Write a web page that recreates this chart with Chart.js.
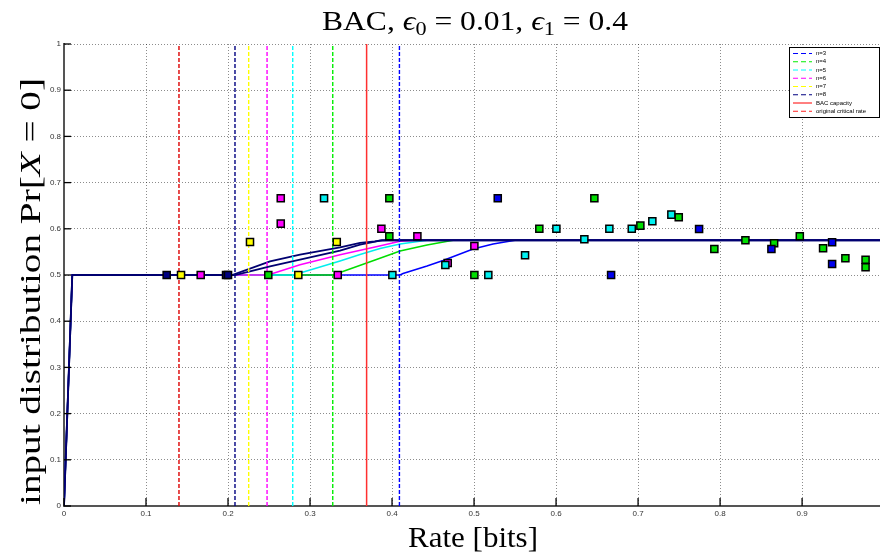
<!DOCTYPE html>
<html><head><meta charset="utf-8">
<script src="https://cdn.jsdelivr.net/npm/chart.js@4.4.0/dist/chart.umd.min.js"></script>
<style>html,body{margin:0;padding:0;background:#fff}canvas{display:block}</style>
</head><body>
<canvas id="c" width="880" height="555"></canvas>
<script>
// ---- tick values ----
const xTicks = [0, 0.1, 0.2, 0.3, 0.4, 0.5, 0.6, 0.7, 0.8, 0.9];
const yTicks = [0, 0.1, 0.2, 0.3, 0.4, 0.5, 0.6, 0.7, 0.8, 0.9, 1];

// ---- curves (rate vs. input distribution) ----
const curveN3X = [0, 0.0101, 0.4098, 0.4134, 0.4427, 0.4622, 0.4988, 0.5232, 0.55, 0.995];
const curveN3Y = [0, 0.5, 0.5, 0.5033, 0.5195, 0.5314, 0.5563, 0.5672, 0.5752, 0.5752];
const curveN4X = [0, 0.0101, 0.3277, 0.3366, 0.3793, 0.4098, 0.4427, 0.4744, 0.995];
const curveN4Y = [0, 0.5, 0.5, 0.5054, 0.5325, 0.5520, 0.5650, 0.5752, 0.5752];
const curveN5X = [0, 0.0101, 0.2793, 0.2878, 0.3366, 0.361, 0.3854, 0.4098, 0.4427, 0.995];
const curveN5Y = [0, 0.5, 0.5, 0.5043, 0.5304, 0.5445, 0.5575, 0.5672, 0.5752, 0.5752];
const curveN6X = [0, 0.0101, 0.2488, 0.2878, 0.3366, 0.3793, 0.4098, 0.4305, 0.995];
const curveN6Y = [0, 0.5, 0.5, 0.5223, 0.5440, 0.5607, 0.5730, 0.5752, 0.5752];
const curveN7X = [0, 0.0101, 0.2085, 0.2512, 0.2878, 0.3366, 0.361, 0.3854, 0.3951, 0.995];
const curveN7Y = [0, 0.5, 0.5, 0.5189, 0.5332, 0.5527, 0.5657, 0.5743, 0.5752, 0.5752];
const curveN8X = [0, 0.0101, 0.2049, 0.2512, 0.2878, 0.3366, 0.361, 0.3793, 0.3878, 0.995];
const curveN8Y = [0, 0.5, 0.5, 0.5297, 0.5440, 0.5600, 0.5694, 0.5726, 0.5752, 0.5752];

// ---- vertical reference rates ----
const vLabels = ['n=3', 'n=4', 'n=5', 'n=6', 'n=7', 'n=8'];
const vRates  = [0.409, 0.3277, 0.2789, 0.2476, 0.2252, 0.2085];
const capacityRate = 0.369;
const criticalRate = 0.1402;

// ---- scatter points ----
const blueX = [0.5289, 0.6671, 0.7744, 0.8626, 0.9366, 0.9366];
const blueY = [0.6662, 0.5, 0.5997, 0.5562, 0.5709, 0.5239];
const navyX = [0.1252, 0.1976, 0.2];
const navyY = [0.5, 0.5, 0.5];
const greenX = [0.2491, 0.3967, 0.3967, 0.5004, 0.5796, 0.6467, 0.7028, 0.7496, 0.7930, 0.8309, 0.8659, 0.8972, 0.9256, 0.9528, 0.9774, 0.9774];
const greenY = [0.5, 0.6662, 0.5839, 0.5, 0.6003, 0.6662, 0.6069, 0.6251, 0.5562, 0.5752, 0.5687, 0.5839, 0.5579, 0.5362, 0.5332, 0.5167];
const cyanX = [0.3171, 0.4004, 0.4650, 0.5174, 0.5622, 0.6004, 0.6345, 0.6650, 0.6923, 0.7174, 0.7406];
const cyanY = [0.6662, 0.5, 0.5217, 0.5, 0.5426, 0.6003, 0.5774, 0.6003, 0.6003, 0.6164, 0.6307];
const magentaX = [0.1667, 0.2643, 0.2643, 0.3338, 0.3870, 0.4309, 0.4679, 0.5004];
const magentaY = [0.5, 0.6662, 0.6112, 0.5, 0.6003, 0.5839, 0.5260, 0.5629];
const yellowX = [0.1427, 0.2268, 0.2857, 0.3326];
const yellowY = [0.5, 0.5715, 0.5, 0.5715];

const zip = (xs, ys) => xs.map((v, i) => ({x: v, y: ys[i]}));
const vline = v => [{x: v, y: 0}, {x: v, y: 1}];

const vColors = ['#0000ff', '#00ee00', '#00ffff', '#ff00ff', '#ffff00', '#000080'];
const DASH = [4, 2];

const datasets = [];
function pts(xs, ys, color, order) {
  datasets.push({type: 'scatter', data: zip(xs, ys), pointStyle: 'rect', pointRadius: 5, pointHoverRadius: 5,
    backgroundColor: color, borderColor: '#000', borderWidth: 1.5, showLine: false, order: order});
}
pts(blueX, blueY, '#0000ee', 1);
pts(navyX, navyY, '#000080', 1);
pts(greenX, greenY, '#00dd00', 1);
pts(cyanX, cyanY, '#00f0f0', 1);
pts(magentaX, magentaY, '#ff00ff', 1);
pts(yellowX, yellowY, '#ffff00', 1);

function vl(v, color, dash, order, width) {
  datasets.push({type: 'scatter', data: vline(v), showLine: true, pointRadius: 0, borderColor: color,
    borderWidth: width || 1.4, borderDash: dash, order: order});
}
vRates.forEach((v, i) => vl(v, vColors[i], DASH, 3));
vl(capacityRate, '#ff3030', [], 2, 1.5);
vl(criticalRate, '#dd0000', DASH, 3);

function curve(xs, ys, color, order, w) {
  datasets.push({type: 'scatter', data: zip(xs, ys), showLine: true, pointRadius: 0, borderColor: color,
    borderWidth: w || 1.5, order: order, tension: 0});
}
curve(curveN8X, curveN8Y, '#000070', 10, 1.8);
curve(curveN7X, curveN7Y, '#000070', 11, 1.8);
curve(curveN6X, curveN6Y, '#ff00ff', 12);
curve(curveN5X, curveN5Y, '#00eeee', 13);
curve(curveN4X, curveN4Y, '#00dd00', 14);
curve(curveN3X, curveN3Y, '#0000ff', 15);

const SERIF = '"Liberation Serif", "DejaVu Serif", serif';
// draw text runs centred on (cx, cy); optionally stretched horizontally to a target width
function drawRuns(ctx, runs, cx, cy, target) {
  let w = 0;
  runs.forEach(r => { ctx.font = r.f; r.w = ctx.measureText(r.t).width; w += r.w; });
  const k = target ? target / w : 1;
  ctx.save();
  ctx.translate(cx, cy);
  ctx.scale(k, 1);
  let x = -w / 2;
  runs.forEach(r => { ctx.font = r.f; ctx.fillText(r.t, x, (r.dy || 0)); x += r.w; });
  ctx.restore();
}

const legendItems = [
  {label: 'n=3', color: vColors[0], dash: [5, 3]},
  {label: 'n=4', color: vColors[1], dash: [5, 3]},
  {label: 'n=5', color: vColors[2], dash: [5, 3]},
  {label: 'n=6', color: vColors[3], dash: [5, 3]},
  {label: 'n=7', color: vColors[4], dash: [5, 3]},
  {label: 'n=8', color: vColors[5], dash: [5, 3]},
  {label: 'BAC capacity', color: '#ff0000', dash: []},
  {label: 'original critical rate', color: '#ff2020', dash: [5, 3]}
];

const decor = {
  id: 'decor',
  afterDraw(chart) {
    const {ctx, chartArea: a, scales: {x, y}} = chart;
    ctx.save();
    // inward ticks
    ctx.strokeStyle = '#000'; ctx.lineWidth = 1.3; ctx.setLineDash([]);
    xTicks.forEach(v => { const px = x.getPixelForValue(v); ctx.beginPath(); ctx.moveTo(px, a.bottom); ctx.lineTo(px, a.bottom - 8); ctx.stroke(); });
    yTicks.forEach(v => { const py = y.getPixelForValue(v); ctx.beginPath(); ctx.moveTo(a.left, py); ctx.lineTo(a.left + 7, py); ctx.stroke(); });

    // legend
    const lx = 789, ly = 47, lw = 90, lh = 70;
    ctx.fillStyle = '#fff'; ctx.fillRect(lx, ly, lw, lh);
    ctx.strokeStyle = '#000'; ctx.lineWidth = 1; ctx.strokeRect(lx + 0.5, ly + 0.5, lw, lh);
    ctx.font = '6px "Liberation Sans", Arial, sans-serif'; ctx.textBaseline = 'middle'; ctx.textAlign = 'left';
    legendItems.forEach((it, i) => {
      const yy = ly + 6.5 + i * 8.25;
      ctx.strokeStyle = it.color; ctx.lineWidth = 1; ctx.setLineDash(it.dash);
      ctx.beginPath(); ctx.moveTo(lx + 4, yy); ctx.lineTo(lx + 23, yy); ctx.stroke();
      ctx.setLineDash([]);
      ctx.fillStyle = '#000'; ctx.fillText(it.label, lx + 27, yy);
    });

    // title
    ctx.fillStyle = '#000'; ctx.textBaseline = 'alphabetic'; ctx.textAlign = 'left';
    drawRuns(ctx, [
      {t: 'BAC, ', f: '27px ' + SERIF},
      {t: 'ϵ', f: 'italic 27px ' + SERIF},
      {t: '0', f: '19px ' + SERIF, dy: 5},
      {t: ' = 0.01, ', f: '27px ' + SERIF},
      {t: 'ϵ', f: 'italic 27px ' + SERIF},
      {t: '1', f: '19px ' + SERIF, dy: 5},
      {t: ' = 0.4', f: '27px ' + SERIF}
    ], 475, 30, 306);

    // x label
    drawRuns(ctx, [{t: 'Rate [bits]', f: '30px ' + SERIF}], 473, 547, 130);

    // y label
    ctx.save();
    ctx.translate(40, 291.5); ctx.rotate(-Math.PI / 2);
    drawRuns(ctx, [
      {t: 'input distribution Pr[', f: '30px ' + SERIF},
      {t: 'X', f: 'italic 30px ' + SERIF},
      {t: ' = 0]', f: '30px ' + SERIF}
    ], 0, 0, 427);
    ctx.restore();
    ctx.restore();
  }
};

const tickFont = {family: '"Liberation Sans", Arial, sans-serif', size: 8};
new Chart(document.getElementById('c'), {
  type: 'scatter',
  data: {datasets: datasets},
  options: {
    responsive: false, animation: false, events: [],
    layout: {autoPadding: false, padding: {top: 44, left: 0, right: 0, bottom: 0}},
    plugins: {legend: {display: false}, tooltip: {enabled: false}, title: {display: false}},
    scales: {
      x: {
        type: 'linear', min: 0, max: 0.995,
        afterBuildTicks: s => { s.ticks = xTicks.map(v => ({value: v})); },
        afterFit: s => { s.height = 49; s.paddingLeft = 0; s.paddingRight = 0; },
        ticks: {font: tickFont, color: '#333', padding: 3, maxRotation: 0, autoSkip: false,
                callback: v => String(+v.toFixed(1))},
        grid: {color: 'rgba(0,0,0,0.45)', lineWidth: 1, drawTicks: false},
        border: {display: true, color: '#555', width: 2, dash: [1, 2]}
      },
      y: {
        type: 'linear', min: 0, max: 1,
        afterBuildTicks: s => { s.ticks = yTicks.map(v => ({value: v})); },
        afterFit: s => { s.width = 64; s.paddingTop = 0; s.paddingBottom = 0; },
        ticks: {font: tickFont, color: '#333', padding: 3, autoSkip: false,
                callback: v => String(+v.toFixed(1))},
        grid: {color: 'rgba(0,0,0,0.45)', lineWidth: 1, drawTicks: false},
        border: {display: true, color: '#555', width: 2, dash: [1, 2]}
      }
    }
  },
  plugins: [decor]
});
</script>
</body></html>
